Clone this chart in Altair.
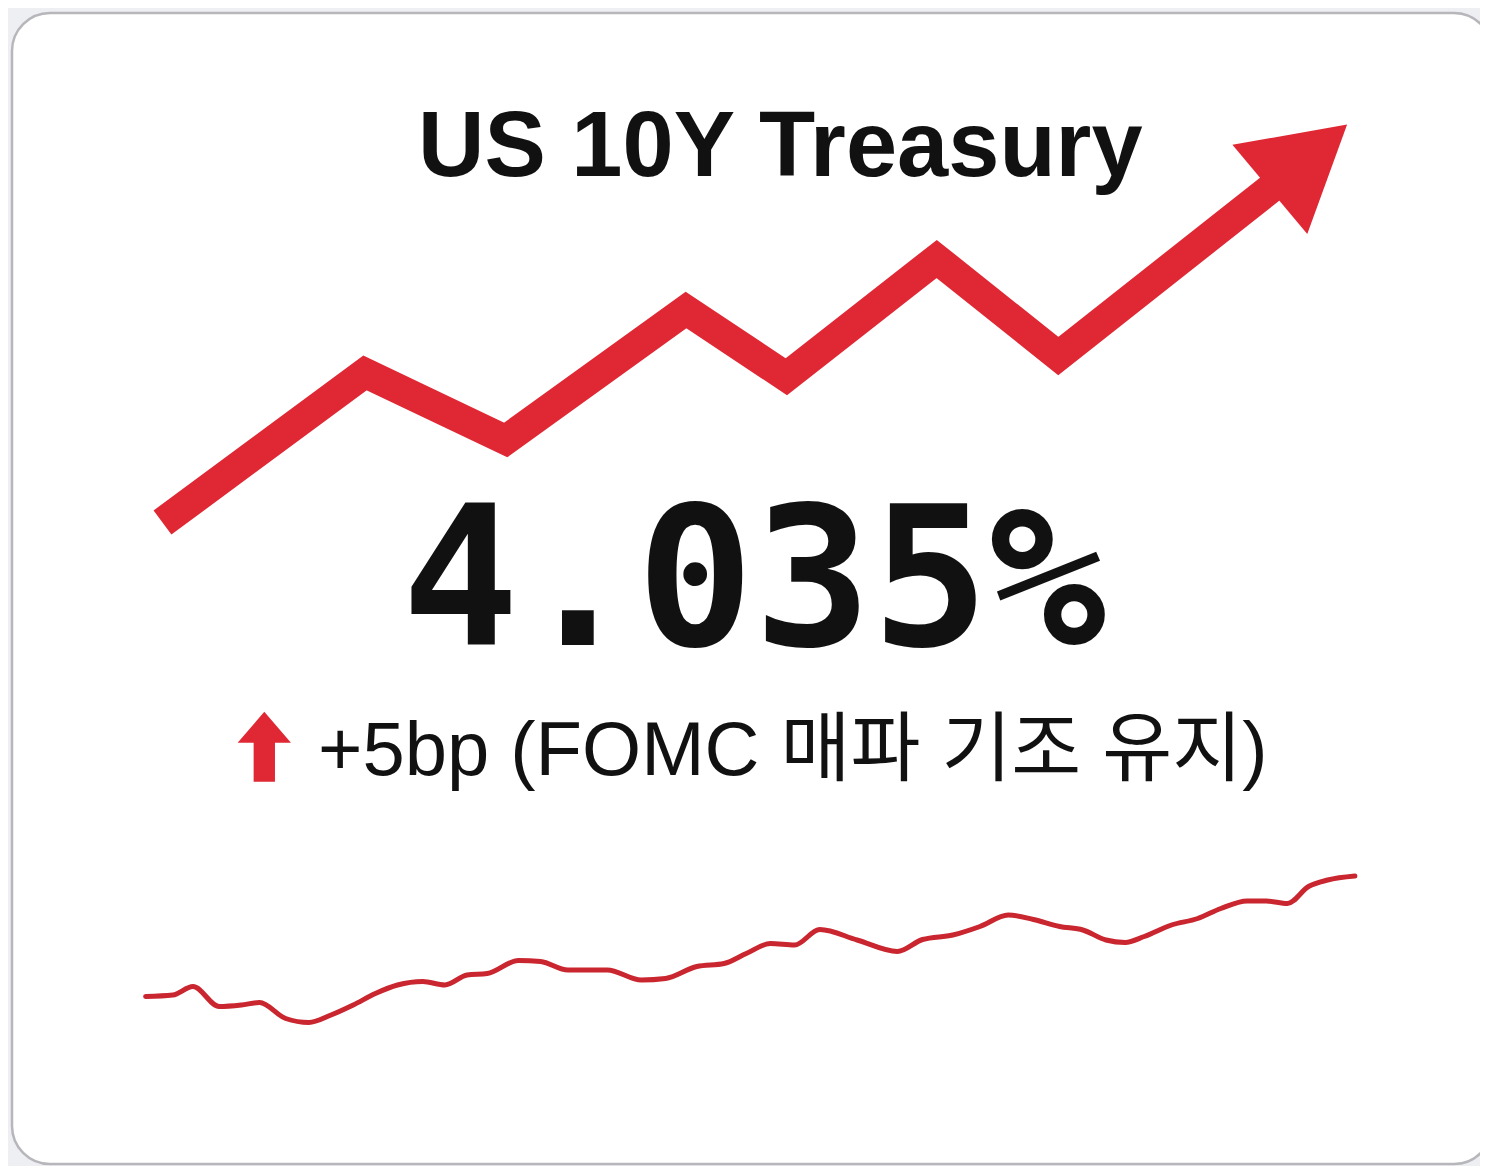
import altair as alt
import pandas as pd

# ---------------- data ----------------
W, H = 1472, 1158

title_text = ["US 10Y Treasury"]
value_text = ["4.035%"]
change_text = ["+5bp (FOMC 매파 기조 유지)"]

# stylised trend arrow (canvas units)
trend_x = [154.5, 357.0, 497.7, 678.0, 778.3, 928.7, 1050.3, 1267.0]
trend_y = [514.5, 365.0, 432.0, 302.0, 368.7, 251.0, 348.0, 177.0]
head_x = [1287.6]
head_y = [159.8]

small_arrow_x = [256.3]
small_arrow_y = [738.7]

# sparkline: day index vs yield (%)
spark_day = [0, 2.7, 4.7, 7.3, 9.5, 11.3, 13.9, 16.2, 18.4, 20.6, 22.8, 25.0,
             27.5, 29.7, 31.9, 33.9, 37.0, 39.2, 41.9, 45.8, 49.2, 51.6, 54.7,
             57.4, 59.6, 62.0, 64.4, 66.9, 70.6, 74.6, 77.1, 80.1, 82.8, 85.6,
             88.1, 90.7, 93.0, 95.3, 97.2, 99.1, 101.8, 104.4, 106.7, 109.3,
             111.2, 113.3, 115.4, 117.3, 120.0]
spark_yield = [3.794, 3.797, 3.814, 3.774, 3.777, 3.782, 3.750, 3.742, 3.757,
               3.777, 3.800, 3.817, 3.824, 3.817, 3.837, 3.840, 3.866, 3.864,
               3.847, 3.847, 3.827, 3.830, 3.854, 3.860, 3.880, 3.900, 3.897,
               3.928, 3.907, 3.884, 3.908, 3.917, 3.934, 3.957, 3.948, 3.934,
               3.927, 3.907, 3.902, 3.914, 3.937, 3.950, 3.970, 3.985, 3.985,
               3.980, 4.014, 4.027, 4.035]

RED = "#e02834"
SPARK = "#c9262f"

# ---------------- helpers ----------------
def cx(field):
    return alt.X(field, type="quantitative", axis=None,
                 scale=alt.Scale(domain=[0, W], range=[0, W], nice=False, zero=False))

def cy(field):
    return alt.Y(field, type="quantitative", axis=None,
                 scale=alt.Scale(domain=[0, H], range=[0, H], nice=False, zero=False))

one = pd.DataFrame({"k": [0]})

card = alt.Chart(one).mark_rect(
    fill="white", stroke="#b6b6bb", strokeWidth=2.5, cornerRadius=38
).encode(x=alt.value(4), x2=alt.value(1484), y=alt.value(5), y2=alt.value(1156))

trend_df = pd.DataFrame({"x": trend_x, "y": trend_y})
trend = alt.Chart(trend_df).mark_line(
    color=RED, strokeWidth=30, strokeJoin="miter", strokeCap="butt", strokeMiterLimit=10
).encode(x=cx("x"), y=cy("y"))

head_df = pd.DataFrame({"x": head_x, "y": head_y})
head = alt.Chart(head_df).mark_point(
    shape="M0,-1L0.866,0.5L-0.866,0.5Z", filled=True, fill=RED, color=RED,
    opacity=1, strokeWidth=0, size=18090, angle=50
).encode(x=cx("x"), y=cy("y"))

title = alt.Chart(pd.DataFrame({"t": title_text})).mark_text(
    align="left", baseline="alphabetic", font="Liberation Sans", fontWeight="bold",
    fontSize=92, color="#111111"
).encode(x=alt.value(410), y=alt.value(168), text="t:N")

value = alt.Chart(pd.DataFrame({"t": value_text})).mark_text(
    align="center", baseline="alphabetic", font="DejaVu Sans Mono", fontWeight="bold",
    fontSize=195, color="#111111"
).encode(x=alt.value(746), y=alt.value(637), text="t:N")

small_df = pd.DataFrame({"x": small_arrow_x, "y": small_arrow_y})
small_arrow = alt.Chart(small_df).mark_point(
    shape="M0,-1.31L1,-0.15L0.4,-0.15L0.4,1.31L-0.4,1.31L-0.4,-0.15L-1,-0.15Z",
    filled=True, fill=RED, color=RED, opacity=1, strokeWidth=0, size=2844
).encode(x=cx("x"), y=cy("y"))

change = alt.Chart(pd.DataFrame({"t": change_text})).mark_text(
    align="left", baseline="alphabetic", font="Liberation Sans, Noto Sans CJK KR",
    fontSize=76, color="#111111"
).encode(x=alt.value(310), y=alt.value(767), text="t:N")

spark_df = pd.DataFrame({"day": spark_day, "yld": spark_yield})
spark = alt.Chart(spark_df).mark_line(
    color=SPARK, strokeWidth=5, strokeJoin="round", strokeCap="round", interpolate="monotone"
).encode(
    x=alt.X("day:Q", axis=None,
            scale=alt.Scale(domain=[0, 120], range=[137.6, 1346.9], nice=False, zero=False)),
    y=alt.Y("yld:Q", axis=None,
            scale=alt.Scale(domain=[3.70, 4.10], range=[1035.5, 835.5], nice=False, zero=False)),
)

chart = alt.layer(
    card, trend, head, title, value, small_arrow, change, spark
).resolve_scale(
    x="independent", y="independent"
).properties(
    width=W, height=H, background="#eeeff3", padding=0,
    autosize=alt.AutoSizeParams(type="none")
).configure_view(strokeWidth=0)

chart.save("out.html", embed_options={"renderer": "svg", "actions": False})
